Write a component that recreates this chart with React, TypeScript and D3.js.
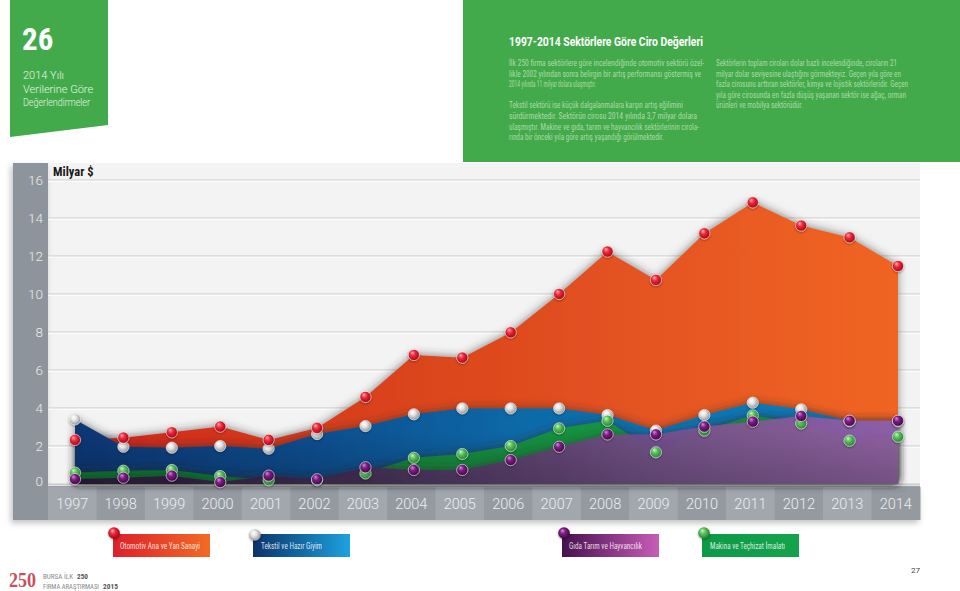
import React from 'react';
import * as d3 from 'd3';

const years = [1997, 1998, 1999, 2000, 2001, 2002, 2003, 2004, 2005, 2006, 2007, 2008, 2009, 2010, 2011, 2012, 2013, 2014];
const otomotiv = [2.32, 2.44, 2.72, 3.02, 2.32, 2.95, 4.58, 6.79, 6.65, 7.98, 10.0, 12.23, 10.74, 13.19, 14.82, 13.6, 12.98, 11.47];
const tekstil = [3.4, 1.96, 1.91, 2.0, 1.86, 2.63, 3.05, 3.67, 3.98, 3.98, 3.98, 3.63, 2.81, 3.63, 4.28, 3.93, 3.3, 3.3];
const makina = [0.6, 0.7, 0.74, 0.42, 0.2, 0.2, 0.56, 1.38, 1.58, 2.0, 2.93, 3.33, 1.67, 2.81, 3.61, 3.19, 2.28, 2.49];
const gida = [0.26, 0.33, 0.44, 0.1, 0.44, 0.25, 0.88, 0.74, 0.74, 1.26, 1.96, 2.61, 2.61, 3.02, 3.28, 3.58, 3.33, 3.33];
const yTicks = [0, 2, 4, 6, 8, 10, 12, 14, 16];

const seriesNames = ['Otomotiv Ana ve Yan Sanayi', 'Tekstil ve Hazır Giyim', 'Gıda Tarım ve Hayvancılık', 'Makina ve Teçhizat İmalatı'];

const leftParagraph = [
  { t: 'İlk 250 firma sektörlere göre incelendiğinde otomotiv sektörü özel-', w: 195 },
  { t: 'likle 2002 yılından sonra belirgin bir artış performansı göstermiş ve', w: 192 },
  { t: '2014 yılında 11 milyar dolara ulaşmıştır.', w: 87 },
  { t: '', w: 0 },
  { t: 'Tekstil sektörü ise küçük dalgalanmalara karşın artış eğilimini', w: 174 },
  { t: 'sürdürmektedir. Sektörün cirosu 2014 yılında 3,7 milyar dolara', w: 188 },
  { t: 'ulaşmıştır. Makine ve gıda, tarım ve hayvancılık sektörlerinin cirola-', w: 190 },
  { t: 'rında bir önceki yıla göre artış yaşandığı görülmektedir.', w: 155 },
];
const rightParagraph = [
  { t: 'Sektörlerin toplam ciroları dolar bazlı incelendiğinde, ciroların 21', w: 181 },
  { t: 'milyar dolar seviyesine ulaştığını görmekteyiz. Geçen yıla göre en', w: 185 },
  { t: 'fazla cirosunu arttıran sektörler, kimya ve lojistik sektörleridir. Geçen', w: 192 },
  { t: 'yıla göre cirosunda en fazla düşüş yaşanan sektör ise ağaç, orman', w: 190 },
  { t: 'ürünleri ve mobilya sektörüdür.', w: 87 },
];

const FONT = "Roboto, 'Liberation Sans', Arial, sans-serif";
const NARROW = "'Liberation Sans Narrow', 'Roboto Condensed', 'Liberation Sans', Arial, sans-serif";

export default function App() {
  const x = d3.scalePoint<number>().domain(years).range([75, 898]);
  const xBand = d3.scaleBand<number>().domain(years).range([48, 920]);
  const y = d3.scaleLinear().domain([0, 16]).range([484, 180]);

  const areaGen = d3
    .area<number>()
    .x((_, i) => x(years[i]) as number)
    .y0(y(0))
    .y1((d) => y(d))
    .curve(d3.curveLinear);

  const series = [
    { key: 'oto', vals: otomotiv, fill: 'url(#gRed)', ball: 'url(#bRed)', op: 1 },
    { key: 'tek', vals: tekstil, fill: 'url(#gBlue)', ball: 'url(#bWhite)', op: 1 },
    { key: 'mak', vals: makina, fill: 'url(#gGreen)', ball: 'url(#bGreen)', op: 1 },
    { key: 'gida', vals: gida, fill: 'url(#gPurple)', ball: 'url(#bPurple)', op: 0.86 },
  ];
  const pointOrder = [1, 0, 2, 3];

  const legend = [
    { name: seriesNames[0], x0: 113, tx: 120, tw: 80, grad: 'url(#lRed)', ball: 'url(#bRed)', bx: 114, by: 533 },
    { name: seriesNames[1], x0: 253, tx: 261, tw: 61, grad: 'url(#lBlue)', ball: 'url(#bWhite)', bx: 255, by: 535 },
    { name: seriesNames[2], x0: 562, tx: 569, tw: 73, grad: 'url(#lPurple)', ball: 'url(#bPurple)', bx: 564, by: 533 },
    { name: seriesNames[3], x0: 702, tx: 710, tw: 75, grad: 'url(#lGreen)', ball: 'url(#bGreen)', bx: 704, by: 533 },
  ];

  const ballGrad = (id: string, c0: string, c1: string, c2: string) => (
    <radialGradient id={id} cx="0.45" cy="0.45" r="0.6" fx="0.35" fy="0.28">
      <stop offset="0%" stopColor={c0} />
      <stop offset="40%" stopColor={c1} />
      <stop offset="100%" stopColor={c2} />
    </radialGradient>
  );

  return (
    <svg width={960} height={591} style={{ position: 'absolute', left: 0, top: 0, background: '#fff' }} fontFamily={FONT}>
      <defs>
        <linearGradient id="gRed" x1="0" x2="1" y1="0" y2="0">
          <stop offset="0%" stopColor="#d3261d" />
          <stop offset="35%" stopColor="#d8411d" />
          <stop offset="100%" stopColor="#f06524" />
        </linearGradient>
        <linearGradient id="gBlue" x1="0" x2="1" y1="0" y2="0">
          <stop offset="0%" stopColor="#0a3674" />
          <stop offset="30%" stopColor="#0a4f90" />
          <stop offset="55%" stopColor="#0a6aa8" />
          <stop offset="100%" stopColor="#0a7fbe" />
        </linearGradient>
        <linearGradient id="gGreen" x1="0" x2="1" y1="0" y2="0">
          <stop offset="0%" stopColor="#0f7a36" />
          <stop offset="100%" stopColor="#18a048" />
        </linearGradient>
        <linearGradient id="gPurple" x1="0" x2="1" y1="0" y2="0">
          <stop offset="0%" stopColor="#2e0f3c" />
          <stop offset="35%" stopColor="#4c2a5c" />
          <stop offset="70%" stopColor="#7c4d8e" />
          <stop offset="100%" stopColor="#9c5fac" />
        </linearGradient>
        <linearGradient id="shadeV" x1="0" x2="0" y1="0" y2="1">
          <stop offset="0%" stopColor="#000" stopOpacity="0" />
          <stop offset="100%" stopColor="#000" stopOpacity="0.18" />
        </linearGradient>
        <linearGradient id="lRed" x1="0" x2="1">
          <stop offset="0%" stopColor="#dc1f2b" />
          <stop offset="100%" stopColor="#f26b24" />
        </linearGradient>
        <linearGradient id="lBlue" x1="0" x2="1">
          <stop offset="0%" stopColor="#0b326c" />
          <stop offset="100%" stopColor="#1ca2de" />
        </linearGradient>
        <linearGradient id="lPurple" x1="0" x2="1">
          <stop offset="0%" stopColor="#46104e" />
          <stop offset="100%" stopColor="#c85db6" />
        </linearGradient>
        <linearGradient id="lGreen" x1="0" x2="1">
          <stop offset="0%" stopColor="#0c9a47" />
          <stop offset="100%" stopColor="#14a34d" />
        </linearGradient>
        {ballGrad('bRed', '#ffb0b0', '#f0293a', '#9a0010')}
        {ballGrad('bWhite', '#ffffff', '#e6e6e6', '#8c8c8c')}
        {ballGrad('bGreen', '#d0f5c0', '#5cc25c', '#1c7a2c')}
        {ballGrad('bPurple', '#d090d8', '#7d1c84', '#38053e')}
        <filter id="areaShadow" x="-10%" y="-20%" width="120%" height="140%">
          <feDropShadow dx="0" dy="-1" stdDeviation="4" floodColor="#333" floodOpacity="0.55" />
        </filter>
        <filter id="boxShadow" x="-10%" y="-10%" width="120%" height="130%">
          <feDropShadow dx="-2" dy="3" stdDeviation="3" floodColor="#000" floodOpacity="0.25" />
        </filter>
        <filter id="ballShadow" x="-50%" y="-50%" width="200%" height="200%">
          <feDropShadow dx="0" dy="1" stdDeviation="0.8" floodColor="#000" floodOpacity="0.4" />
        </filter>
      </defs>

      {/* Header green blocks */}
      <polygon points="10,0 108,0 108,125 10,137" fill="#43aa4b" />
      <text x={22} y={50} fill="#fff" fontSize={31} fontWeight={700} fontFamily={NARROW}>26</text>
      <text x={23} y={79} fill="#e8f5e6" fontSize={11} fontWeight={300}>2014 Yılı</text>
      <text x={23} y={93} fill="#e8f5e6" fontSize={11} fontWeight={300}>Verilerine Göre</text>
      <text x={23} y={106} fill="#e8f5e6" fontSize={11} fontWeight={300} textLength={67} lengthAdjust="spacingAndGlyphs">Değerlendirmeler</text>

      <rect x={463} y={0} width={497} height={162} fill="#43aa4b" />
      <text x={509} y={46} fill="#fff" fontSize={13} fontWeight={700} textLength={194} lengthAdjust="spacingAndGlyphs">
        1997-2014 Sektörlere Göre Ciro Değerleri
      </text>
      {leftParagraph.map((l, i) =>
        l.t ? (
          <text key={'lp' + i} x={509} y={66 + i * 10.6} fill="#acd9a6" fontSize={8.2} fontFamily={NARROW} textLength={l.w} lengthAdjust="spacingAndGlyphs">
            {l.t}
          </text>
        ) : null
      )}
      {rightParagraph.map((l, i) => (
        <text key={'rp' + i} x={716} y={66 + i * 10.6} fill="#acd9a6" fontSize={8.2} fontFamily={NARROW} textLength={l.w} lengthAdjust="spacingAndGlyphs">
          {l.t}
        </text>
      ))}

      {/* Plot background */}
      <rect x={48} y={163} width={872} height={321} fill="#f3f3f3" />
      {/* left axis column and x band */}
      <g filter="url(#boxShadow)">
        <rect x={13} y={163} width={35} height={357} fill="#8e949b" />
        {years.map((yr, i) => (
          <rect key={'cell' + yr} x={xBand(yr)} y={487} width={xBand.bandwidth() + 0.5} height={33} fill={i % 2 === 0 ? '#a2a7ad' : '#959aa1'} />
        ))}
      </g>
      <rect x={48} y={484} width={872} height={3} fill="#9aa0a6" />

      {/* gridlines */}
      {yTicks.map((t) => (
        <g key={'g' + t}>
          <line x1={48} x2={920} y1={y(t)} y2={y(t)} stroke="#c9c9c9" strokeWidth={1.2} />
          <line x1={48} x2={920} y1={y(t) + 1.2} y2={y(t) + 1.2} stroke="#ffffff" strokeWidth={1} />
        </g>
      ))}
      {yTicks.map((t) => (
        <text key={'yl' + t} x={43} y={y(t) + (t === 0 ? 2 : 5)} textAnchor="end" fill="#e9ebed" fontSize={13.5} fontWeight={300}>
          {t}
        </text>
      ))}
      <text x={53} y={176} fill="#1a1a1a" fontSize={12.5} fontWeight={700} fontFamily={NARROW}>
        Milyar $
      </text>

      {/* areas */}
      {series.map((s) => (
        <path key={'a' + s.key} d={areaGen(s.vals) || ''} fill={s.fill} fillOpacity={s.op} filter="url(#areaShadow)" />
      ))}
      <rect x={74} y={430} width={825} height={54} fill="url(#shadeV)" />

      {/* points */}
      {pointOrder.map((si) => {
        const s = series[si];
        return (
          <g key={'p' + s.key} filter="url(#ballShadow)">
            {s.vals.map((v, i) => (
              <circle key={i} cx={x(years[i])} cy={y(v)} r={5.6} fill={s.ball} stroke="#ffffff" strokeOpacity={0.7} strokeWidth={0.8} />
            ))}
          </g>
        );
      })}

      {/* x labels */}
      {years.map((yr) => (
        <text key={'xl' + yr} x={(xBand(yr) as number) + xBand.bandwidth() / 2} y={509} textAnchor="middle" fill="#eceef0" fontSize={14.5} fontWeight={300}>
          {yr}
        </text>
      ))}

      {/* legend */}
      {legend.map((l) => (
        <g key={l.name}>
          <rect x={l.x0} y={534} width={97} height={23} fill={l.grad} />
          <text x={l.tx} y={549} fill="#fff" fillOpacity={0.85} fontSize={8.2} fontFamily={NARROW} textLength={l.tw} lengthAdjust="spacingAndGlyphs">
            {l.name}
          </text>
          <circle cx={l.bx} cy={l.by} r={5.8} fill={l.ball} filter="url(#ballShadow)" />
        </g>
      ))}

      {/* footer */}
      <text x={9} y={587} fill="#c8505c" fontSize={21} fontWeight={700} fontFamily="'Liberation Serif', serif" textLength={27} lengthAdjust="spacingAndGlyphs">
        250
      </text>
      <text x={43} y={579} fill="#8a8a8a" fontSize={7} fontFamily={NARROW} textLength={30} lengthAdjust="spacingAndGlyphs">BURSA İLK</text>
      <text x={77} y={579} fill="#555" fontSize={7} fontWeight={700} fontFamily={NARROW} textLength={11} lengthAdjust="spacingAndGlyphs">250</text>
      <text x={43} y={589} fill="#8a8a8a" fontSize={7} fontFamily={NARROW} textLength={56} lengthAdjust="spacingAndGlyphs">FİRMA ARAŞTIRMASI</text>
      <text x={103} y={589} fill="#555" fontSize={7} fontWeight={700} fontFamily={NARROW} textLength={15} lengthAdjust="spacingAndGlyphs">2015</text>
      <text x={911} y={573} fill="#444" fontSize={8}>
        27
      </text>
    </svg>
  );
}
